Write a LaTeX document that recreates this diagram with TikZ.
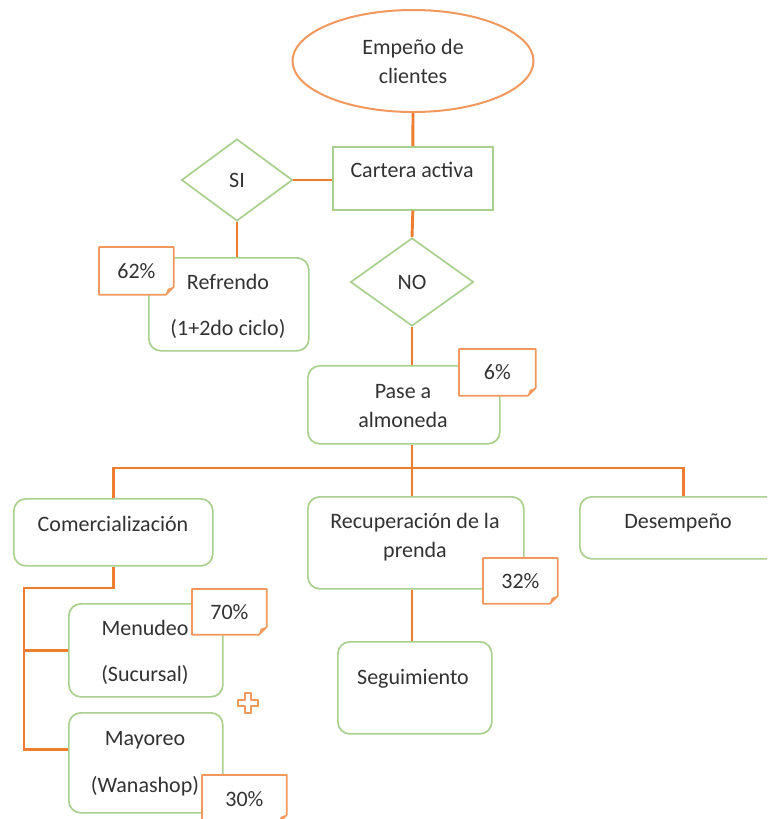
\documentclass[tikz,border=0pt]{standalone}
\usepackage{fontspec}
\setmainfont{Carlito}
\usetikzlibrary{shapes.geometric}
\definecolor{lineorange}{RGB}{237,125,49}
\definecolor{noteorange}{RGB}{241,152,94}
\definecolor{boxgreen}{RGB}{169,208,142}
\definecolor{txtgray}{RGB}{50,50,50}
\tikzset{
  link/.style={draw=lineorange, line width=1.45pt},
  gbox/.style={draw=boxgreen, line width=0.85pt, rounded corners=6pt, anchor=north west, inner sep=0pt},
  sqbox/.style={draw=boxgreen, line width=0.85pt, anchor=north west, inner sep=0pt},
  dia/.style={diamond, draw=boxgreen, line width=0.85pt, fill=white, inner sep=0pt, text=txtgray},
  txt/.style={text=txtgray, align=center, inner sep=0pt},
  note/.style={fill=white, anchor=north west, inner sep=0pt, text=txtgray},
  noteline/.style={draw=noteorange, line width=0.85pt, line join=round}
}
\newcommand{\foldnote}[1]{%
  \draw[noteline] (#1.north west) -- (#1.north east) -- ([yshift=4pt]#1.south east)
    -- ([xshift=-4pt]#1.south east) -- (#1.south west) -- cycle;
  \fill[noteorange] ([yshift=4pt]#1.south east) -- ([xshift=-4pt]#1.south east)
    -- ([xshift=-3pt,yshift=3pt]#1.south east) -- cycle;}
\begin{document}
\begin{tikzpicture}[x=0.5pt,y=-0.5pt,font=\fontsize{11}{14.5}\selectfont]
\useasboundingbox (0,0) rectangle (767,819);
\clip (0,0) rectangle (767,819);
\node[ellipse, draw=noteorange, line width=1pt, minimum width=120.5pt, minimum height=51pt, inner sep=0pt, align=center, text=txtgray] (empeno) at (413,61) {Empeño de\\clientes};
\node[sqbox, minimum width=80pt, minimum height=31.5pt] (cartera) at (332,146) {};
\node[txt] (cartera-t) at (412,170) {Cartera activa};
\node[dia, minimum width=55.5pt, minimum height=41pt] (si) at (237,180) {SI};
\node[dia, minimum width=61.5pt, minimum height=44pt] (no) at (412,282) {NO};
\node[gbox, minimum width=80pt, minimum height=46.5pt] (refrendo) at (148,257) {};
\node[txt] (refrendo-t) at (228,306) {Refrendo\\[8.5pt](1+2do ciclo)};
\node[gbox, minimum width=96pt, minimum height=39pt] (pase) at (307,365) {};
\node[txt] (pase-t) at (403,406) {Pase a\\almoneda};
\node[gbox, minimum width=99.5pt, minimum height=33.5pt] (comer) at (13,498) {};
\node[txt] (comer-t) at (113,524) {Comercialización};
\node[gbox, minimum width=108pt, minimum height=46pt] (recup) at (307,496) {};
\node[txt] (recup-t) at (415,537.5) {Recuperación de la\\prenda};
\node[gbox, minimum width=104pt, minimum height=31pt] (desemp) at (579,496) {};
\node[txt] (desemp-t) at (678,523) {Desempeño};
\node[gbox, minimum width=77pt, minimum height=46.5pt] (menudeo) at (68,603) {};
\node[txt] (menudeo-t) at (145,652) {Menudeo\\[8.5pt](Sucursal)};
\node[gbox, minimum width=77pt, minimum height=50pt] (mayoreo) at (68,712) {};
\node[txt] (mayoreo-t) at (145,763.5) {Mayoreo\\[9pt](Wanashop)};
\node[gbox, minimum width=77pt, minimum height=46pt] (segui) at (337,641) {};
\node[txt] (segui-t) at (413,679) {Seguimiento};
\coordinate (bar) at (412,468);
\coordinate (trunk) at (24,588);
\draw[link] (empeno.south) -- (cartera.north);
\draw[link] (si.east) -- (si.east -| cartera.west);
\draw[link] (si.south) -- (si.south |- refrendo.north);
\draw[link] (cartera.south) -- (no.north);
\draw[link] (no.south) -- (no.south |- pase.north);
\draw[link] (bar |- pase.south) -- (bar);
\draw[link] (comer.north) |- (bar) -| (desemp.north);
\draw[link] (bar) -- (bar |- recup.north);
\draw[link] (comer.south) |- (trunk) |- ([yshift=6.5pt]mayoreo.west);
\draw[link] (trunk |- menudeo.west) -- (menudeo.west);
\draw[link] (bar |- recup.south) -- (bar |- segui.north);
\node[note, minimum width=37pt, minimum height=23.5pt] (n62) at (99,247) {62\%};
\foldnote{n62}
\node[note, minimum width=38pt, minimum height=23pt] (n6) at (459,349) {6\%};
\foldnote{n6}
\node[note, minimum width=37pt, minimum height=22.5pt] (n32) at (483,558) {32\%};
\foldnote{n32}
\node[note, minimum width=37pt, minimum height=22.5pt] (n70) at (192,589) {70\%};
\foldnote{n70}
\node[note, minimum width=42pt, minimum height=23.5pt] (n30) at (202,775) {30\%};
\foldnote{n30}
\draw[noteline, line width=0.7pt] (245,693) -- (251,693) -- (251,700) -- (258,700) -- (258,706) -- (251,706) -- (251,713) -- (245,713) -- (245,706) -- (238,706) -- (238,700) -- (245,700) -- cycle;
\end{tikzpicture}
\end{document}
